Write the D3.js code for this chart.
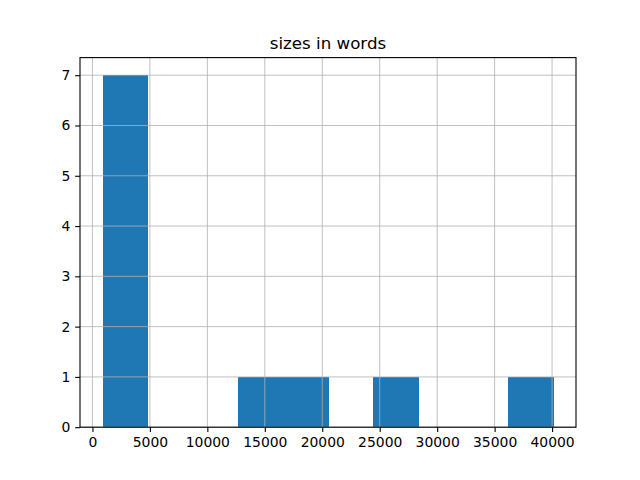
<!DOCTYPE html>
<html><head><meta charset="utf-8">
<script src="https://cdn.jsdelivr.net/npm/d3@7"></script>
<style>body{margin:0;background:#fff}</style>
</head><body>
<svg id="c" width="640" height="480"></svg>
<script>
const title = "sizes in words";
const minValue = 880;
const maxValue = 40120;
const counts = [7, 0, 0, 1, 1, 0, 1, 0, 0, 1];
const xTicks = [0, 5000, 10000, 15000, 20000, 25000, 30000, 35000, 40000];
const yTicks = [0, 1, 2, 3, 4, 5, 6, 7];

const svg = d3.select("#c");
const L = 80, R = 576, T = 57.6, B = 427.2;
const nb = counts.length;
const bw = (maxValue - minValue) / nb;
const bins = counts.map((c, i) => ({x0: minValue + i * bw, x1: minValue + (i + 1) * bw, c}));
const pad = 0.05 * (maxValue - minValue);
const x = d3.scaleLinear().domain([minValue - pad, maxValue + pad]).range([L, R]);
const yMax = d3.max(counts) * 1.05;
const y = d3.scaleLinear().domain([0, yMax]).range([B, T]);
const font = "DejaVu Sans, sans-serif";

svg.append("g").attr("shape-rendering", "crispEdges")
  .selectAll("rect").data(bins.filter(d => d.c > 0)).join("rect")
  .attr("x", d => x(d.x0)).attr("width", d => x(d.x1) - x(d.x0) + 0.5)
  .attr("y", d => y(d.c)).attr("height", d => y(0) - y(d.c))
  .attr("fill", "#1f77b4");

// grid on top
const g = svg.append("g").attr("stroke", "#b0b0b0").attr("stroke-width", 0.8);
g.selectAll(".vx").data(xTicks).join("line")
  .attr("x1", d => x(d)).attr("x2", d => x(d)).attr("y1", T).attr("y2", B);
g.selectAll(".hy").data(yTicks).join("line")
  .attr("y1", d => y(d)).attr("y2", d => y(d)).attr("x1", L).attr("x2", R);

const xAxis = d3.axisBottom(x).tickValues(xTicks).tickSize(4.86).tickPadding(4.86).tickFormat(d3.format("d"));
const yAxis = d3.axisLeft(y).tickValues(yTicks).tickSize(4.86).tickPadding(4.86).tickFormat(d3.format("d"));
const ax = svg.append("g").attr("transform", `translate(0,${B})`).call(xAxis);
const ay = svg.append("g").attr("transform", `translate(${L},0)`).call(yAxis);
[ax, ay].forEach(a => {
  a.select(".domain").remove();
  a.selectAll(".tick line").attr("stroke", "#000").attr("stroke-width", 1.1);
  a.selectAll(".tick text").attr("font-family", font).attr("font-size", "13.9px").attr("fill", "#000");
});

svg.append("rect").attr("x", L).attr("y", T).attr("width", R - L).attr("height", B - T)
  .attr("fill", "none").attr("stroke", "#000").attr("stroke-width", 1.1);

svg.append("text").attr("x", (L + R) / 2).attr("y", T - 8.5).attr("text-anchor", "middle")
  .attr("font-family", font).attr("font-size", "16.67px").text(title);
</script>
</body></html>
